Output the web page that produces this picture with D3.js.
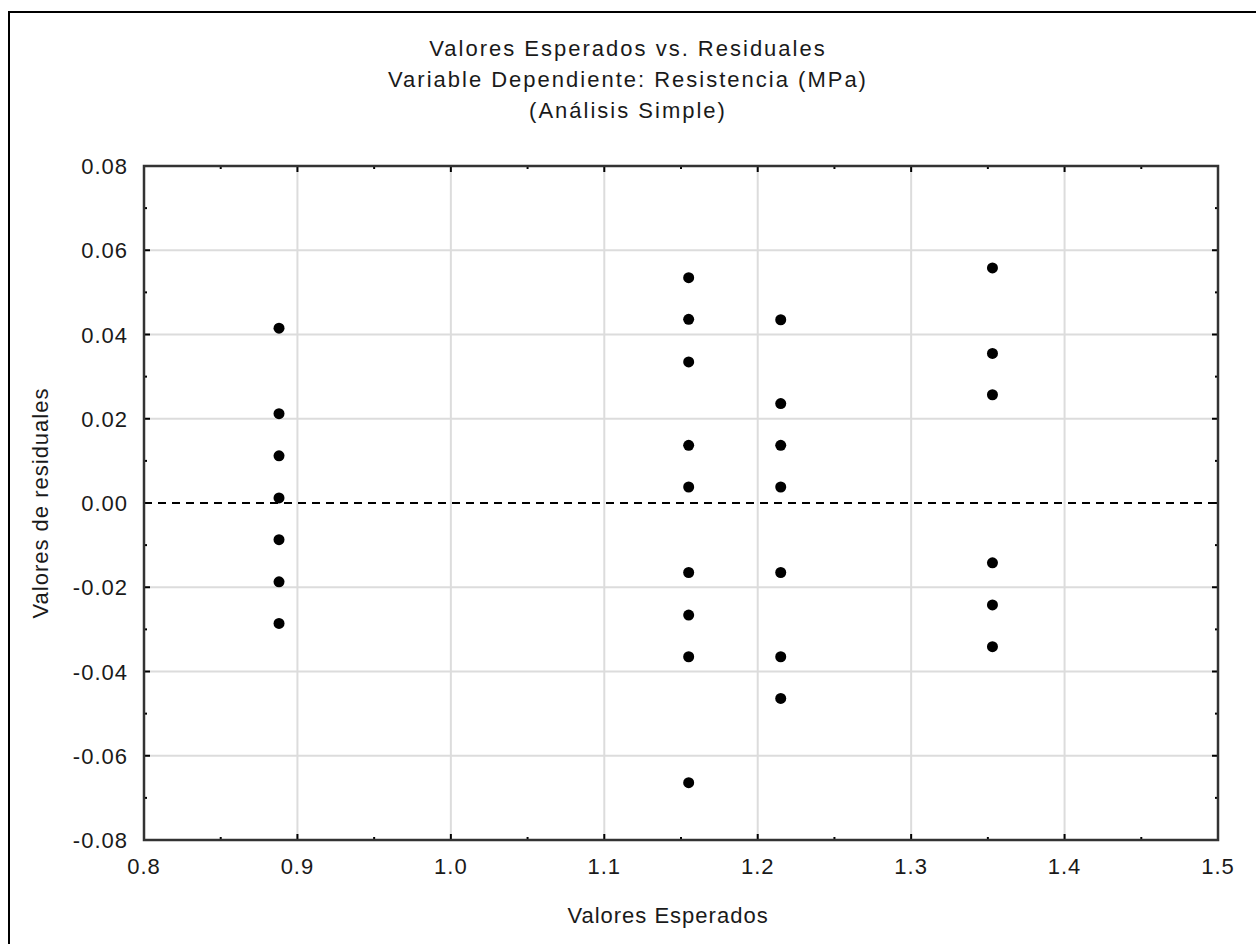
<!DOCTYPE html>
<html lang="es">
<head>
    <meta charset="UTF-8">
    <title>Valores Esperados vs. Residuales</title>
    <script src="https://d3js.org/d3.v7.min.js"></script>
    <style>
        html, body { margin: 0; padding: 0; background: #fff; }
        svg { display: block; font-family: "Liberation Sans", Arial, sans-serif; }
    </style>
</head>
<body>
    <div id="chart"></div>

    <script>
        // Data
        const titleLines = ['Valores Esperados vs. Residuales',
                            'Variable Dependiente: Resistencia (MPa)',
                            '(Análisis Simple)'];
        const xTicks = [0.8, 0.9, 1.0, 1.1, 1.2, 1.3, 1.4, 1.5];
        const yTicks = [-0.08, -0.06, -0.04, -0.02, 0.00, 0.02, 0.04, 0.06, 0.08];

        const expected = [
            0.888, 0.888, 0.888, 0.888, 0.888, 0.888, 0.888,
            1.155, 1.155, 1.155, 1.155, 1.155, 1.155, 1.155, 1.155, 1.155,
            1.215, 1.215, 1.215, 1.215, 1.215, 1.215, 1.215,
            1.353, 1.353, 1.353, 1.353, 1.353, 1.353
        ];
        const residuals = [
            0.0415, 0.0212, 0.0112, 0.0012, -0.0087, -0.0187, -0.0286,
            0.0535, 0.0436, 0.0335, 0.0137, 0.0038, -0.0165, -0.0266, -0.0365, -0.0664,
            0.0435, 0.0236, 0.0137, 0.0038, -0.0165, -0.0365, -0.0464,
            0.0558, 0.0355, 0.0257, -0.0142, -0.0242, -0.0341
        ];

        const width = 1256;
        const height = 944;
        const margin = { left: 144, right: 38, top: 166, bottom: 104 };
        const fontSize = 22;

        const svg = d3.select('#chart')
            .append('svg')
            .attr('width', width)
            .attr('height', height);

        // outer frame of the picture
        svg.append('rect')
            .attr('x', 9).attr('y', 12)
            .attr('width', 1270).attr('height', 960)
            .attr('fill', 'none')
            .attr('stroke', '#000')
            .attr('stroke-width', 2);

        const x = d3.scaleLinear().domain([0.8, 1.5]).range([margin.left, width - margin.right]);
        const y = d3.scaleLinear().domain([-0.08, 0.08]).range([height - margin.bottom, margin.top]);

        const x0 = x.range()[0], x1 = x.range()[1];
        const y0 = y.range()[0], y1 = y.range()[1];

        // grid
        svg.append('g')
            .selectAll('line')
            .data(xTicks.slice(1, -1))
            .join('line')
            .attr('x1', d => x(d)).attr('x2', d => x(d))
            .attr('y1', y1).attr('y2', y0)
            .attr('stroke', '#dcdcdc').attr('stroke-width', 2);

        svg.append('g')
            .selectAll('line')
            .data(yTicks.slice(1, -1).filter(d => d !== 0))
            .join('line')
            .attr('x1', x0).attr('x2', x1)
            .attr('y1', d => y(d)).attr('y2', d => y(d))
            .attr('stroke', '#dcdcdc').attr('stroke-width', 2);

        // zero reference line
        svg.append('line')
            .attr('x1', x0).attr('x2', x1)
            .attr('y1', y(0)).attr('y2', y(0))
            .attr('stroke', '#000')
            .attr('stroke-width', 2)
            .attr('stroke-dasharray', '8,6');

        // ticks (inward, all four sides)
        const xMinor = d3.range(0.85, 1.5, 0.1);
        const yMinor = d3.range(-0.07, 0.08, 0.02);
        const tickG = svg.append('g').attr('stroke', '#000').attr('stroke-width', 2);

        xTicks.forEach(d => {
            tickG.append('line').attr('x1', x(d)).attr('x2', x(d)).attr('y1', y0).attr('y2', y0 - 6);
            tickG.append('line').attr('x1', x(d)).attr('x2', x(d)).attr('y1', y1).attr('y2', y1 + 6);
        });
        xMinor.forEach(d => {
            tickG.append('line').attr('x1', x(d)).attr('x2', x(d)).attr('y1', y0).attr('y2', y0 - 3);
            tickG.append('line').attr('x1', x(d)).attr('x2', x(d)).attr('y1', y1).attr('y2', y1 + 3);
        });
        yTicks.forEach(d => {
            tickG.append('line').attr('y1', y(d)).attr('y2', y(d)).attr('x1', x0).attr('x2', x0 + 6);
            tickG.append('line').attr('y1', y(d)).attr('y2', y(d)).attr('x1', x1).attr('x2', x1 - 6);
        });
        yMinor.forEach(d => {
            tickG.append('line').attr('y1', y(d)).attr('y2', y(d)).attr('x1', x0).attr('x2', x0 + 3);
            tickG.append('line').attr('y1', y(d)).attr('y2', y(d)).attr('x1', x1).attr('x2', x1 - 3);
        });

        // plot frame
        svg.append('rect')
            .attr('x', x0).attr('y', y1)
            .attr('width', x1 - x0).attr('height', y0 - y1)
            .attr('fill', 'none')
            .attr('stroke', '#333')
            .attr('stroke-width', 2.5);

        // tick labels (plain hyphen for negatives, like the original)
        const fmtY = d => d3.format('.2f')(d).replace('\u2212', '-');

        svg.append('g')
            .selectAll('text')
            .data(xTicks)
            .join('text')
            .attr('x', d => x(d))
            .attr('y', y0 + 34)
            .attr('text-anchor', 'middle')
            .attr('font-size', fontSize)
            .attr('letter-spacing', 1)
            .attr('fill', '#1a1a1a')
            .text(d3.format('.1f'));

        svg.append('g')
            .selectAll('text')
            .data(yTicks)
            .join('text')
            .attr('x', x0 - 16)
            .attr('y', d => y(d) + 8)
            .attr('text-anchor', 'end')
            .attr('font-size', fontSize)
            .attr('letter-spacing', 1)
            .attr('fill', '#1a1a1a')
            .text(fmtY);

        // points
        svg.append('g')
            .selectAll('circle')
            .data(expected.map((e, i) => [e, residuals[i]]))
            .join('circle')
            .attr('cx', d => x(d[0]))
            .attr('cy', d => y(d[1]))
            .attr('r', 5.5)
            .attr('fill', '#000');

        // titles
        svg.append('g')
            .selectAll('text')
            .data(titleLines)
            .join('text')
            .attr('x', 628)
            .attr('y', (d, i) => 56 + i * 31)
            .attr('text-anchor', 'middle')
            .attr('font-size', fontSize)
            .attr('letter-spacing', 2)
            .attr('fill', '#1a1a1a')
            .text(d => d);

        svg.append('text')
            .attr('x', 668)
            .attr('y', 923)
            .attr('text-anchor', 'middle')
            .attr('font-size', fontSize)
            .attr('letter-spacing', 1)
            .attr('fill', '#1a1a1a')
            .text('Valores Esperados');

        svg.append('text')
            .attr('transform', `translate(48,${y(0)}) rotate(-90)`)
            .attr('text-anchor', 'middle')
            .attr('font-size', fontSize)
            .attr('letter-spacing', 1)
            .attr('fill', '#1a1a1a')
            .text('Valores de residuales');
    </script>
</body>
</html>
